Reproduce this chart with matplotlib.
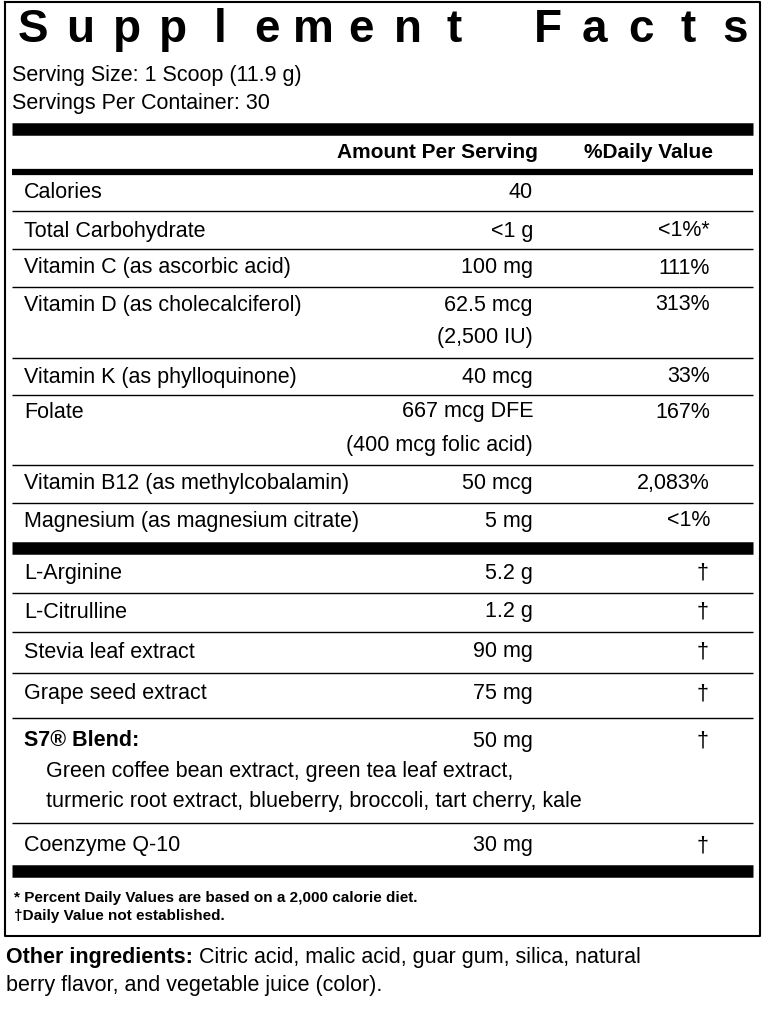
import matplotlib
matplotlib.use("Agg")
import matplotlib.pyplot as plt

FONT = ["Liberation Sans", "DejaVu Sans"]
plt.rcParams['font.family'] = FONT

title = "Supplement Facts"
serving_lines = ["Serving Size: 1 Scoop (11.9 g)", "Servings Per Container: 30"]
header_amount = "Amount Per Serving"
header_dv = "%Daily Value"

names1 = ["Calories", "Total Carbohydrate", "Vitamin C (as ascorbic acid)",
          "Vitamin D (as cholecalciferol)", "Vitamin K (as phylloquinone)", "Folate",
          "Vitamin B12 (as methylcobalamin)", "Magnesium (as magnesium citrate)"]
amounts1 = ["40", "<1 g", "100 mg", "62.5 mcg\n(2,500 IU)", "40 mcg",
            "667 mcg DFE\n(400 mcg folic acid)", "50 mcg", "5 mg"]
dv1 = ["", "<1%*", "111%", "313%", "33%", "167%", "2,083%", "<1%"]

names2 = ["L-Arginine", "L-Citrulline", "Stevia leaf extract", "Grape seed extract",
          "S7® Blend:", "Coenzyme Q-10"]
amounts2 = ["5.2 g", "1.2 g", "90 mg", "75 mg", "50 mg", "30 mg"]
dv2 = ["†", "†", "†", "†", "†", "†"]
blend_text = ["Green coffee bean extract, green tea leaf extract,",
              "turmeric root extract, blueberry, broccoli, tart cherry, kale"]

footnotes = ["* Percent Daily Values are based on a 2,000 calorie diet.",
             "†Daily Value not established."]
other = ["Other ingredients: ", "Citric acid, malic acid, guar gum, silica, natural",
         "berry flavor, and vegetable juice (color)."]

fig = plt.figure(figsize=(7.66, 10.10), dpi=100)
ax = fig.add_axes([0, 0, 1, 1])
ax.set_xlim(0, 766); ax.set_ylim(1010, 0); ax.axis("off")

def hline(y, lw):
    ax.plot([12, 753], [y, y], color="black", lw=lw, solid_capstyle="butt")

ax.plot([5, 760, 760, 5, 5], [2, 2, 936, 936, 2], color="black", lw=1.5)

# title letters spread across the width
n = len(title)
step = (735 - 33) / (n - 1)
for i, ch in enumerate(title):
    if ch != " ":
        ax.text(33 + i * step, 30, ch, fontsize=33, fontweight="bold",
                va="center", ha="center")

ax.text(12, 75, serving_lines[0], fontsize=15.5, va="center")
ax.text(12, 104, serving_lines[1], fontsize=15.5, va="center")
hline(129, 9)
ax.text(538, 152, header_amount, fontsize=15, fontweight="bold", va="center", ha="right")
ax.text(713, 152, header_dv, fontsize=15, fontweight="bold", va="center", ha="right")
hline(172, 4.5)

ys1 = [193, 231, 268, 305, 377, 412, 484, 521]
seps1 = [211, 249, 287, 358, 395, 465, 503]
for nm, a, d, y in zip(names1, amounts1, dv1, ys1):
    ax.text(24, y, nm, fontsize=15.5, va="center", ha="left")
    for i, p in enumerate(a.split("\n")):
        ax.text(533, y + i * 33, p, fontsize=15.5, va="center", ha="right")
    ax.text(710, y, d, fontsize=15.5, va="center", ha="right")
for s in seps1:
    hline(s, 1)
hline(548, 9)

ys2 = [573, 612, 652, 694, 741, 846]
for s in [593, 632, 673, 718, 823]:
    hline(s, 1)
for nm, a, d, y in zip(names2, amounts2, dv2, ys2):
    bold = nm.startswith("S7")
    ax.text(24, y, nm, fontsize=15.5, va="center", ha="left",
            fontweight="bold" if bold else "normal")
    ax.text(533, y, a, fontsize=15.5, va="center", ha="right")
    ax.text(703, y, d, fontsize=15.5, va="center", ha="center")
ax.text(46, 771, blend_text[0], fontsize=15.5, va="center")
ax.text(46, 802, blend_text[1], fontsize=15.5, va="center")
hline(871, 9)
ax.text(14, 898, footnotes[0], fontsize=11, fontweight="bold", va="center")
ax.text(14, 916, footnotes[1], fontsize=11, fontweight="bold", va="center")

t = ax.text(6, 958, other[0], fontsize=15.5, fontweight="bold", va="center")
fig.canvas.draw()
bb = t.get_window_extent()
ax.text(bb.x1, 958, other[1], fontsize=15.5, va="center",
        transform=matplotlib.transforms.blended_transform_factory(None, ax.transData)
        if False else ax.transData)
ax.text(6, 986, other[2], fontsize=15.5, va="center")

fig.savefig("out.png", dpi=100)
